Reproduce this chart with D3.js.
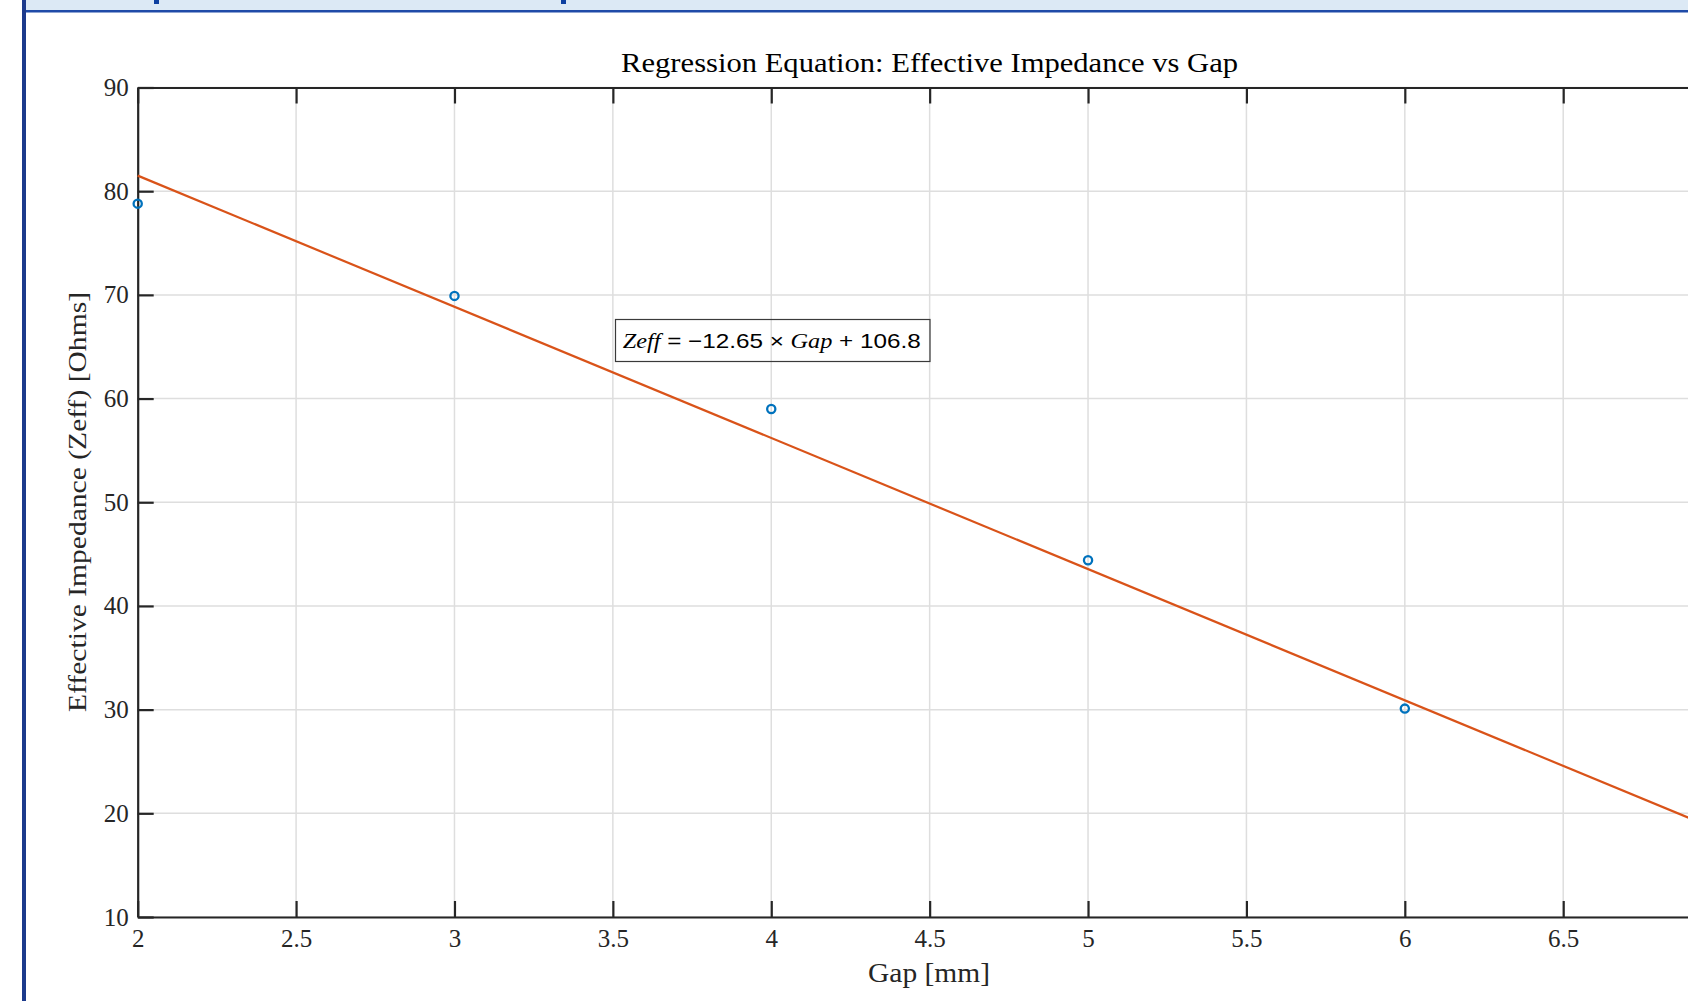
<!DOCTYPE html>
<html>
<head>
<meta charset="utf-8">
<script src="https://cdn.jsdelivr.net/npm/d3@7/dist/d3.min.js"></script>
<style>
html,body{margin:0;padding:0;background:#fff;overflow:hidden;}
svg{display:block;}
</style>
</head>
<body>
<svg id="chart" width="1688" height="1001"></svg>
<script>
// ---- data ----
const gap = [2, 3, 4, 5, 6];
const zeff = [78.8, 69.9, 59.0, 44.4, 30.1];
const fitSlope = -12.65;
const fitIntercept = 106.8;
const xTicks = [2, 2.5, 3, 3.5, 4, 4.5, 5, 5.5, 6, 6.5];
const yTicks = [10, 20, 30, 40, 50, 60, 70, 80, 90];
const titleText = "Regression Equation: Effective Impedance vs Gap";
const xLabelText = "Gap [mm]";
const yLabelText = "Effective Impedance (Zeff) [Ohms]";

const svg = d3.select("#chart");
const W = 1688, H = 1001;

// page decoration (blue frame)
svg.append("rect").attr("x", 26).attr("y", 0).attr("width", W - 26).attr("height", 10).attr("fill", "#dce9f5");
svg.append("rect").attr("x", 22).attr("y", 10).attr("width", W - 22).attr("height", 2.5).attr("fill", "#1f4ba8");
svg.append("rect").attr("x", 22).attr("y", 0).attr("width", 4).attr("height", H).attr("fill", "#1c3a8c");
svg.append("rect").attr("x", 154).attr("y", 0).attr("width", 5).attr("height", 4).attr("fill", "#0d3fa0");
svg.append("rect").attr("x", 561).attr("y", 0).attr("width", 5).attr("height", 4).attr("fill", "#0d3fa0");

// x domain runs to 7, which lies just beyond the visible page edge
const x = d3.scaleLinear().domain([2, 7]).range([137.7, 1721.6]);
const y = d3.scaleLinear().domain([10, 90]).range([917, 87.5]);

const serif = "'Liberation Serif', 'Times New Roman', serif";
const axisColor = "#262626";

// grid
const grid = svg.append("g");
grid.selectAll(".gx").data(xTicks).enter().append("line")
  .attr("x1", d => x(d)).attr("x2", d => x(d))
  .attr("y1", y(10)).attr("y2", y(90))
  .attr("stroke", "#dedede").attr("stroke-width", 1.5);
grid.selectAll(".gy").data(yTicks).enter().append("line")
  .attr("x1", x(2)).attr("x2", x(7))
  .attr("y1", d => y(d)).attr("y2", d => y(d))
  .attr("stroke", "#dedede").attr("stroke-width", 1.5);

// axes (inner ticks)
const tickLen = 16;
const xAxisB = d3.axisBottom(x).tickValues(xTicks).tickSizeInner(-tickLen).tickSizeOuter(0).tickPadding(12)
  .tickFormat(d => d3.format("")(d));
const gxb = svg.append("g").attr("transform", `translate(0,${y(10)})`).call(xAxisB);
const xAxisT = d3.axisTop(x).tickValues(xTicks).tickSizeInner(-tickLen).tickSizeOuter(0).tickFormat("");
const gxt = svg.append("g").attr("transform", `translate(0,${y(90)})`).call(xAxisT);
const yAxisL = d3.axisLeft(y).tickValues(yTicks).tickSizeInner(-tickLen).tickSizeOuter(0).tickPadding(9);
const gyl = svg.append("g").attr("transform", `translate(${x(2)},0)`).call(yAxisL);

[gxb, gxt, gyl].forEach(g => {
  g.select(".domain").attr("stroke", axisColor).attr("stroke-width", 2.2);
  g.selectAll(".tick line").attr("stroke", axisColor).attr("stroke-width", 2.2);
  g.selectAll(".tick text").attr("fill", axisColor).style("font-family", serif).style("font-size", "25px");
});
gxb.selectAll(".tick text").attr("dy", "0.71em");
gyl.selectAll(".tick text").attr("dy", "0.32em");

// regression line
const fit = d => fitSlope * d + fitIntercept;
svg.append("line")
  .attr("x1", x(2)).attr("y1", y(fit(2)))
  .attr("x2", x(7)).attr("y2", y(fit(7)))
  .attr("stroke", "#d95319").attr("stroke-width", 2.2);

// data points
svg.selectAll(".pt").data(gap.map((g, i) => [g, zeff[i]])).enter().append("circle")
  .attr("cx", d => x(d[0])).attr("cy", d => y(d[1])).attr("r", 4.1)
  .attr("fill", "none").attr("stroke", "#0072bd").attr("stroke-width", 2.3);

// title
svg.append("text").attr("x", 929.6).attr("y", 72).attr("text-anchor", "middle")
  .attr("textLength", 617).attr("lengthAdjust", "spacingAndGlyphs")
  .style("font-family", serif).style("font-size", "27px").attr("fill", "#000")
  .text(titleText);

// x label
svg.append("text").attr("x", 929).attr("y", 982).attr("text-anchor", "middle")
  .attr("textLength", 122).attr("lengthAdjust", "spacingAndGlyphs")
  .style("font-family", serif).style("font-size", "27px").attr("fill", axisColor)
  .text(xLabelText);

// y label
svg.append("text").attr("transform", "translate(86,502) rotate(-90)").attr("text-anchor", "middle")
  .attr("textLength", 420).attr("lengthAdjust", "spacingAndGlyphs")
  .style("font-family", serif).style("font-size", "26px").attr("fill", axisColor)
  .text(yLabelText);

// annotation box
svg.append("rect").attr("x", 615.5).attr("y", 319.5).attr("width", 314.5).attr("height", 42)
  .attr("fill", "none").attr("stroke", "#3a3a3a").attr("stroke-width", 1.2);
const ann = svg.append("text").attr("x", 622.7).attr("y", 347.5)
  .attr("textLength", 298).attr("lengthAdjust", "spacingAndGlyphs")
  .style("font-size", "21px").attr("fill", "#000");
ann.append("tspan").style("font-family", serif).style("font-style", "italic").text("Zeff");
ann.append("tspan").style("font-family", "'Liberation Sans', Arial, sans-serif").text(" = \u221212.65 \u00d7 ");
ann.append("tspan").style("font-family", serif).style("font-style", "italic").text("Gap");
ann.append("tspan").style("font-family", "'Liberation Sans', Arial, sans-serif").text(" + 106.8");
</script>
</body>
</html>
